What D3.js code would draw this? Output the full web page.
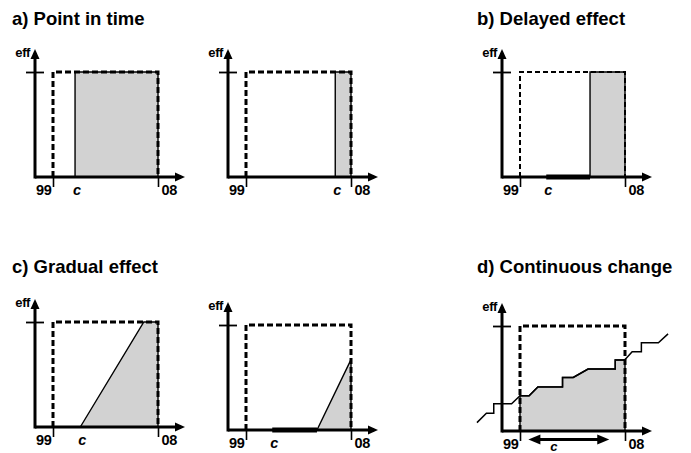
<!DOCTYPE html>
<html><head><meta charset="utf-8">
<script src="https://cdn.jsdelivr.net/npm/d3@7"></script>
<style>body{margin:0;background:#fff}svg{display:block}</style>
</head><body>
<svg id="chart" width="691" height="453"></svg>
<script>
// ---- data (time t: 0 = '99, 1 = '08 ; effect v: 0 = none, 1 = full) ----
const titles = ["a) Point in time", "b) Delayed effect", "c) Gradual effect", "d) Continuous change"];
const tickTimes = [0, 1];
const tickLabels = ["99", "08"];
const effLabel = "eff";
const causeLabel = "c";
const causeTimes = [0.21, 0.85, 0.25, 0.26, 0.25];          // a1, a2, b, c1, c2
const effectA1 = [[0.21, 0], [0.21, 1], [1, 1], [1, 0]];
const effectA2 = [[0.85, 0], [0.85, 1], [1, 1], [1, 0]];
const effectB  = [[0.667, 0], [0.667, 1], [1, 1], [1, 0]];
const delayB   = [0.25, 0.667];
const effectC1 = [[0.26, 0], [0.865, 1], [1, 1], [1, 0]];
const effectC2 = [[0.676, 0], [1, 0.67], [1, 0]];
const delayC2  = [0.25, 0.676];
const stepD = [[-0.41, 0.08], [-0.32, 0.17], [-0.25, 0.17], [-0.25, 0.26], [-0.08, 0.26],
  [0.0, 0.335], [0.087, 0.335], [0.17, 0.42], [0.405, 0.42], [0.405, 0.51], [0.507, 0.51],
  [0.648, 0.59], [0.907, 0.59], [0.907, 0.676], [0.997, 0.676], [1.068, 0.755],
  [1.156, 0.755], [1.156, 0.84], [1.318, 0.84], [1.41, 0.925]];
const rangeD = [0.08, 0.85];

// ---- drawing ----
const svg = d3.select("#chart");
const FONT = "'Liberation Sans', Arial, Helvetica, sans-serif";
const GRAY = "#d2d2d2";

svg.selectAll("text.title").data(titles).join("text")
  .attr("class", "title")
  .attr("x", (d, i) => i % 2 === 0 ? 12 : 477)
  .attr("y", (d, i) => i < 2 ? 25 : 273)
  .attr("font-family", FONT).attr("font-weight", "bold").attr("font-size", 18.5)
  .text(d => d);

function panel(ox, oy, o) {
  const g = svg.append("g").attr("transform", `translate(${ox},${oy})`);
  const x = d3.scaleLinear().domain([0, 1]).range([18, 123]);
  const y = d3.scaleLinear().domain([0, 1]).range([0, -105]);
  const xEnd = x.invert(150), xStart = x.invert(0);
  const yEnd = y.invert(-128);

  // effect polygon
  if (o.effect) {
    g.append("path")
      .attr("d", d3.line().x(d => x(d[0])).y(d => y(d[1]))(o.effect) + "Z")
      .attr("fill", GRAY).attr("stroke", "#000").attr("stroke-width", 1.4)
      .attr("stroke-linejoin", "miter");
  }
  if (o.step) {
    const pts = o.step;
    const vAt = t => {
      for (let i = 0; i < pts.length - 1; i++) {
        const a = pts[i], b = pts[i + 1];
        if (t >= a[0] && t <= b[0] && b[0] > a[0]) return a[1] + (b[1] - a[1]) * (t - a[0]) / (b[0] - a[0]);
      }
      return 0;
    };
    const poly = [[0, 0], [0, vAt(0)]].concat(pts.filter(p => p[0] > 0 && p[0] < 1), [[1, vAt(1)], [1, 0]]);
    g.append("path")
      .attr("d", d3.line().x(d => x(d[0])).y(d => y(d[1]))(poly) + "Z")
      .attr("fill", GRAY).attr("stroke", "#000").attr("stroke-width", 1.4);
  }

  // dashed reference box
  g.append("path")
    .attr("d", d3.line().x(d => x(d[0])).y(d => y(d[1]))([[0, 0], [0, 1], [1, 1], [1, 0]]))
    .attr("fill", "none").attr("stroke", "#000")
    .attr("stroke-width", o.thinDash ? 2 : 3)
    .attr("stroke-dasharray", o.thinDash ? "5,3" : "6,3");

  if (o.step) {
    g.append("path")
      .attr("d", d3.line().x(d => x(d[0])).y(d => y(d[1]))(o.step))
      .attr("fill", "none").attr("stroke", "#000").attr("stroke-width", 1.5);
  }

  // delay bar on axis
  if (o.delay) {
    g.append("line")
      .attr("x1", x(o.delay[0])).attr("x2", x(o.delay[1]))
      .attr("y1", y(0)).attr("y2", y(0))
      .attr("stroke", "#000").attr("stroke-width", 5);
  }

  // x axis
  const xa = d3.scaleLinear().domain([xStart, xEnd]).range([0, 150]);
  const gx = g.append("g").call(d3.axisBottom(xa).tickValues(tickTimes)
      .tickFormat((d, i) => tickLabels[i]).tickSize(10).tickSizeOuter(0));
  gx.select(".domain").attr("stroke-width", 3).attr("d", `M${xa(xStart)},0H${xa(xEnd) - 4}`);
  gx.selectAll(".tick line").attr("stroke-width", 1.6);
  gx.selectAll(".tick text")
    .attr("font-family", FONT).attr("font-weight", "bold").attr("font-size", 14.5)
    .attr("fill", "#000").attr("letter-spacing", -0.3)
    .attr("y", 8)
    .attr("text-anchor", (d, i) => i === 0 ? "end" : "start")
    .attr("x", (d, i) => i === 0 ? -2 : 3);
  g.append("path").attr("d", `M${xa(xEnd)},0L${xa(xEnd) - 10},-4.5L${xa(xEnd) - 10},4.5Z`).attr("fill", "#000");

  // y axis
  const ya = d3.scaleLinear().domain([0, yEnd]).range([0, -128]);
  const gy = g.append("g").call(d3.axisLeft(ya).tickValues([1]).tickFormat("").tickSize(9).tickSizeOuter(0));
  gy.select(".domain").attr("stroke-width", 3).attr("d", `M0,${ya(0) + 1.5}V${ya(yEnd) + 4}`);
  gy.selectAll(".tick line").attr("x1", -9).attr("x2", 9).attr("stroke-width", 1.8);
  g.append("path").attr("d", `M0,${ya(yEnd)}L-4.5,${ya(yEnd) + 10}L4.5,${ya(yEnd) + 10}Z`).attr("fill", "#000");
  g.append("text").attr("x", -5).attr("y", -120).attr("text-anchor", "end")
    .attr("font-family", FONT).attr("font-weight", "bold").attr("font-size", 13)
    .attr("letter-spacing", -0.4).text(effLabel);

  // cause label
  if (o.cause !== undefined) {
    g.append("text").attr("x", x(o.cause) - 2).attr("y", 18)
      .attr("font-family", FONT).attr("font-weight", "bold").attr("font-style", "italic")
      .attr("font-size", 14.5).text(causeLabel);
  }
  if (o.range) {
    const x0 = x(o.range[0]), x1 = x(o.range[1]), yy = 8.5;
    g.append("line").attr("x1", x0 + 8).attr("x2", x1 - 8).attr("y1", yy).attr("y2", yy)
      .attr("stroke", "#000").attr("stroke-width", 3);
    g.append("path").attr("d", `M${x0},${yy}L${x0 + 12},${yy - 5}L${x0 + 12},${yy + 5}Z`).attr("fill", "#000");
    g.append("path").attr("d", `M${x1},${yy}L${x1 - 12},${yy - 5}L${x1 - 12},${yy + 5}Z`).attr("fill", "#000");
    g.append("text").attr("x", (x0 + x1) / 2 - 15).attr("y", 19.5).attr("text-anchor", "middle")
      .attr("font-family", FONT).attr("font-weight", "bold").attr("font-style", "italic")
      .attr("font-size", 13).text(causeLabel);
  }
}

panel(35, 177, { effect: effectA1, cause: causeTimes[0] });
panel(228, 177, { effect: effectA2, cause: causeTimes[1] });
panel(502, 177, { effect: effectB, delay: delayB, cause: causeTimes[2], thinDash: true });
panel(35, 427, { effect: effectC1, cause: causeTimes[3] });
panel(228, 430, { effect: effectC2, delay: delayC2, cause: causeTimes[4] });
panel(502, 431, { step: stepD, range: rangeD });
</script>
</body></html>
